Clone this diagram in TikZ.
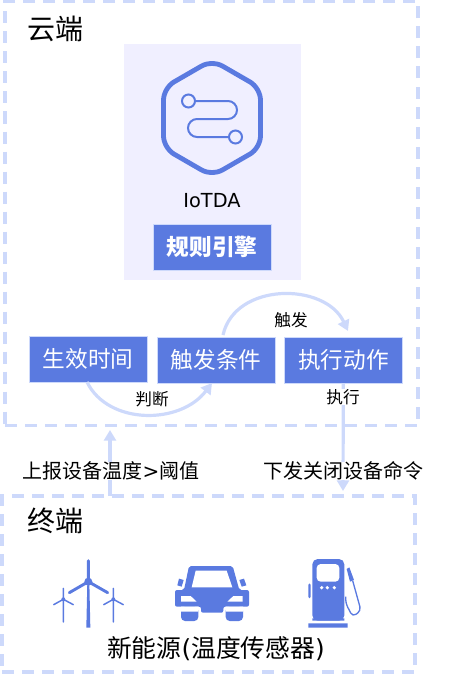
\documentclass[tikz,border=0pt]{standalone}
\usepackage{fontspec}
\setmainfont{DejaVu Sans}
\newfontfamily\cjk{Noto Sans CJK SC}
\usetikzlibrary{arrows.meta, positioning, calc}
\definecolor{IoTblue}{HTML}{5A7AE0}
\definecolor{IoTpale}{HTML}{CDD9FB}
\definecolor{IoTpanel}{HTML}{F0EFFF}

\begin{document}
\begin{tikzpicture}[
      x=0.75pt, y=-0.75pt,
      node distance=7pt,
      every node/.style={align=center, inner sep=0pt, outer sep=0pt},
      zonebox/.style={draw=IoTpale, line width=2.6pt, dash pattern={on 9pt off 6pt}},
      bluebox/.style={fill=IoTblue, draw=IoTpale, line width=0.5pt, text=white, minimum width=88.5pt, minimum height=34.5pt, font=\cjk\fontsize{17}{17}\selectfont},
      arr/.style={-{Triangle[length=8pt, width=9pt]}, line width=2.4pt, IoTpale},
      bigtext/.style={font=\cjk\fontsize{21}{21}\selectfont},
      midtext/.style={font=\cjk\fontsize{15}{15}\selectfont, fill=white},
      smalltext/.style={font=\cjk\fontsize{12.5}{13}\selectfont},
      icon/.style={fill=IoTblue, draw=none}
   ]
      \useasboundingbox (0,0) rectangle (454,685);
      % zones
      \node (cloud) [zonebox, minimum width=309.75pt, minimum height=318pt] at (211.5,213.5) {};
      \node (device) [zonebox, minimum width=309.75pt, minimum height=132pt] at (208.5,584) {};
      \node (cloudtitle) [bigtext] at (55,29) {云端};
      \node (devicetitle) [bigtext] at (55,521) {终端};
      % engine panel
      \node (panel) [fill=IoTpanel, minimum width=132.75pt, minimum height=177pt] at (212.5,162) {};
      \draw[IoTblue, line width=3.6pt, rounded corners=9pt] (212,60) -- (260.5,88) -- (260.5,148) -- (212,176) -- (163.5,148) -- (163.5,88) -- cycle;
      \draw[IoTblue, line width=1.5pt] (188.5,101) circle (6.5)
         (195,101) -- (228,101) arc[start angle=-90, end angle=90, radius=9] -- (197,119)
         arc[start angle=-90, end angle=-270, radius=9] -- (229,137) (235.5,137) circle (6.5);
      \node (iotda) [font=\fontsize{14.5}{15}\selectfont] at (212,201) {IoTDA};
      \node (engine) [bluebox, font=\cjk\bfseries\fontsize{17}{17}\selectfont] at (212,247) {规则引擎};
      % rule boxes
      \node (timebox) [bluebox] at (88,359) {生效时间};
      \node (condbox) [bluebox, right=7.5pt of timebox, yshift=-0.75pt] {触发条件};
      \node (actbox) [bluebox, right=of condbox] {执行动作};
      % connectors
      \coordinate (upfoot) at (110,496);
      \coordinate (uptip) at (110,430);
      \coordinate (downfoot) at (343,491);
      \draw[arr] (upfoot) -- (uptip);
      \draw[arr] (actbox.south) -- (downfoot);
      \coordinate (judgefrom) at (87,382);
      \coordinate (judgeto) at (212,383);
      \coordinate (trigfrom) at (223,335);
      \coordinate (trigto) at (348,331);
      \draw[arr] (judgefrom) .. controls (108,425) and (180,425) .. (judgeto);
      \draw[arr] (trigfrom) .. controls (235,282) and (325,282) .. (trigto);
      % labels
      \node (judge) [smalltext] at (152,399) {判断};
      \node (trigger) [smalltext] at (291,320) {触发};
      \node (exec) [smalltext, fill=white] at (343,397) {执行};
      \node (report) [midtext] at (111,471) {上报设备温度{\rmfamily >}阈值};
      \node (issue) [midtext] at (343,471) {下发关闭设备命令};
      \node (source) [font=\cjk\fontsize{18.6}{19}\selectfont] at (216,649) {新能源{\rmfamily (}温度传感器{\rmfamily )}};
      % icons
      \begin{scope}[shift={(40,550)}, x=0.25pt, y=-0.25pt]
         \fill[icon] (142,95) -- (148,95) -- (151,233) -- (139,233) -- cycle;
         \draw[IoTblue, line width=2.2pt, line cap=round] (145,95) -- (145,32) (145,95) -- (88,128) (145,95) -- (203,128);
         \fill[icon] (145,95) circle (12);
         \draw[IoTblue, line width=1.1pt, line cap=round] (70,148) -- (70,216) (70,148) -- (70,115) (70,148) -- (41,164) (70,148) -- (100,164);
         \fill[icon] (70,148) circle (6);
         \draw[IoTblue, line width=1.1pt, line cap=round] (220,148) -- (220,216) (220,148) -- (220,115) (220,148) -- (191,164) (220,148) -- (250,164);
         \fill[icon] (220,148) circle (6);
         % car
         \fill[icon, rounded corners=1.5pt] (447,48) -- (578,48) -- (598,120) -- (627,120) -- (627,170) -- (550,170) -- (550,188) -- (483,188) -- (483,170) -- (405,170) -- (405,120) -- (432,120) -- cycle;
         \fill[icon, rounded corners=3pt] (423,170) -- (423,213) -- (475,213) -- (475,170) -- cycle;
         \fill[icon, rounded corners=3pt] (557,170) -- (557,213) -- (609,213) -- (609,170) -- cycle;
         \fill[white] (423,170) rectangle (475,185) (557,170) rectangle (609,185);
         \fill[white] (467,62) -- (560,62) -- (577,112) -- (455,112) -- cycle;
         \fill[icon] (417,86) -- (431,90) -- (425,110) -- (412,106) -- cycle;
         \fill[icon] (598,90) -- (612,86) -- (619,106) -- (605,110) -- cycle;
         \fill[white] (423,138) -- (452,138) -- (470,155) -- (423,155) -- cycle;
         \fill[white] (608,138) -- (580,138) -- (562,155) -- (608,155) -- cycle;
         % pump
         \fill[icon, rounded corners=4pt] (817,212) -- (817,27) -- (913,27) -- (913,212) -- cycle;
         \fill[icon] (817,205) rectangle (913,212) (805,220) rectangle (923,233);
         \fill[white, rounded corners=3pt] (830,42) rectangle (898,95);
         \fill[white] (845,113) circle (5.5) (862,113) circle (5.5) (883,113) circle (5.5);
         \fill[icon, rounded corners=1pt] (805,100) rectangle (812,145);
         \fill[icon] (920,57) -- (928,52) -- (942,90) -- (930,95) -- cycle;
         \draw[IoTblue, line width=1pt, rounded corners=3pt] (917,140) -- (917,160) -- (938,200) -- (963,182) -- (938,92);
      \end{scope}
   \end{tikzpicture}
\end{document}
